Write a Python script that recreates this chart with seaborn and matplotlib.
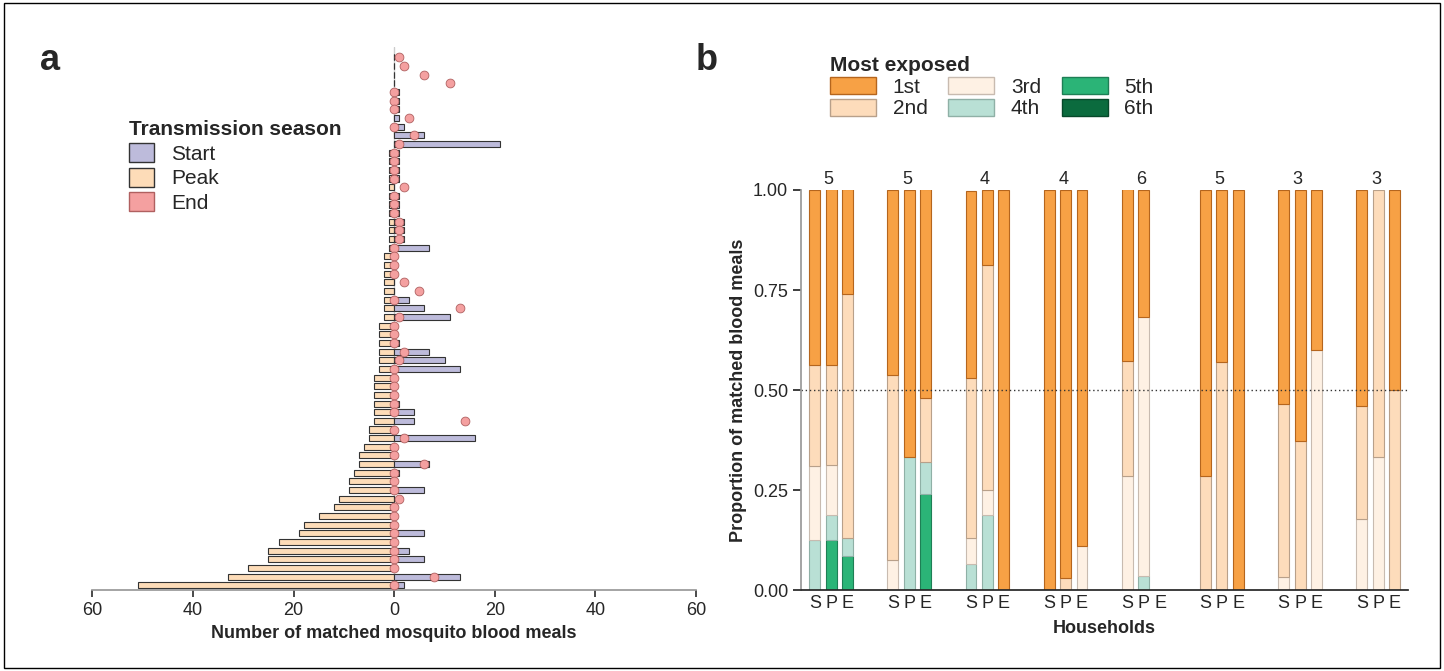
import numpy as np
import pandas as pd
import matplotlib
matplotlib.use("Agg")
import matplotlib.pyplot as plt
import seaborn as sns
from matplotlib.patches import Patch

sns.set_theme(style="ticks")
plt.rcParams['font.family'] = ['Liberation Sans', 'DejaVu Sans']

# ---------- Panel a data (top row first) ----------
peak = [0,0,0,0,0,0,0,0,0,0,0,1,1,1,1,1,1,1,1,1,1,1,1,2,2,2,2,2,2,2,2,
        3,3,3,3,3,3,4,4,4,4,4,4,5,5,6,7,7,8,9,9,11,12,15,18,19,23,25,25,29,33,51]
start = [0,0,0,0,1,1,1,1,2,6,21,1,1,1,1,0,1,1,1,2,2,2,7,0,0,0,0,0,3,6,11,
         0,0,1,7,10,13,0,0,0,1,4,4,0,16,0,0,7,1,0,6,0,0,0,0,6,0,3,6,0,13,2]
end = [1,2,6,11,0,0,0,3,0,4,1,0,0,0,0,2,0,0,0,1,1,1,0,0,0,0,2,5,0,13,1,
       0,0,0,2,1,0,0,0,0,0,0,14,0,2,0,0,6,0,0,0,1,0,0,0,0,0,0,0,0,8,0]
season_labels = ["Start", "Peak", "End"]

# ---------- Panel b data ----------
households = ["H1","H2","H3","H4","H5","H6","H7","H8"]
n_people = [5,5,4,4,6,5,3,3]
periods = ["S","P","E"]
ranks = ["1st","2nd","3rd","4th","5th","6th"]
props = {
 ("H1","S"): [.438,.251,.186,.125,0,0],
 ("H1","P"): [.44,.25,.125,.0625,.125,0],
 ("H1","E"): [.263,.609,0,.043,.087,0],
 ("H2","S"): [.463,.46,.077,0,0,0],
 ("H2","P"): [.667,0,0,.333,0,0],
 ("H2","E"): [.522,.16,0,.08,.24,0],
 ("H3","S"): [.467,.40,.065,.065,0,0],
 ("H3","P"): [.1875,.5625,.0625,.1875,0,0],
 ("H3","E"): [1,0,0,0,0,0],
 ("H4","S"): [1,0,0,0,0,0],
 ("H4","P"): [.97,.03,0,0,0,0],
 ("H4","E"): [.889,0,.111,0,0,0],
 ("H5","S"): [.429,.286,.286,0,0,0],
 ("H5","P"): [.317,0,.645,.037,0,0],
 ("H5","E"): [0,0,0,0,0,0],
 ("H6","S"): [.714,.286,0,0,0,0],
 ("H6","P"): [.429,.571,0,0,0,0],
 ("H6","E"): [1,0,0,0,0,0],
 ("H7","S"): [.534,.433,.033,0,0,0],
 ("H7","P"): [.628,.372,0,0,0,0],
 ("H7","E"): [.4,0,.6,0,0,0],
 ("H8","S"): [.539,.283,.178,0,0,0],
 ("H8","P"): [0,.667,.333,0,0,0],
 ("H8","E"): [.5,.5,0,0,0,0],
}

c_start, c_peak, c_end = "#BDBBDB", "#FDDCB8", "#F4A0A0"
rank_colors = ["#F7A145", "#FDDCBB", "#FEF1E4", "#B9E0D5", "#2BB477", "#0B6B3E"]
rank_edges = ["#B5651D", "#B8A08A", "#C8BBB0", "#8FB0A6", "#1E7F55", "#07482A"]

fig = plt.figure(figsize=(14.44, 6.71), dpi=100)
fig.patches.append(plt.Rectangle((0.003, 0.005), 0.994, 0.99, transform=fig.transFigure,
                                 fill=False, ec="black", lw=1))

# ---------- Panel a ----------
ax = fig.add_axes([0.064, 0.12, 0.418, 0.81])
n = len(peak)
y = np.arange(n)
dfa = pd.DataFrame({"row": y, "peak": peak, "start": start, "end": end})
ax.axvline(0, color="#cccccc", lw=1, zorder=0)
ax.barh(dfa["row"], -dfa["peak"], height=0.7, color=c_peak, edgecolor="#333333", lw=0.8)
ax.barh(dfa["row"], dfa["start"], height=0.7, color=c_start, edgecolor="#333333", lw=0.8)
sns.scatterplot(data=dfa, x="end", y="row", ax=ax, color=c_end, edgecolor="#b06060",
                s=40, linewidth=0.6, zorder=5, legend=False)
ax.set_ylim(n - 0.4, -1.2)
ax.set_xlim(-60, 60)
ax.set_xticks([-60,-40,-20,0,20,40,60])
ax.set_xticklabels(["60","40","20","0","20","40","60"], fontsize=13)
ax.set_yticks([])
ax.set_ylabel("")
for s in ["top","right","left"]:
    ax.spines[s].set_visible(False)
ax.spines["bottom"].set_color("#999999")
ax.tick_params(axis="x", length=5, color="#333333")
ax.set_xlabel("Number of matched mosquito blood meals", fontsize=13, fontweight="bold")
handles = [Patch(facecolor=c_start, edgecolor="#333333", label="Start"),
           Patch(facecolor=c_peak, edgecolor="#333333", label="Peak"),
           Patch(facecolor=c_end, edgecolor="#b06060", label="End")]
leg = ax.legend(handles=handles, title="Transmission season", loc="upper left",
                bbox_to_anchor=(0.03, 0.9), frameon=False, fontsize=15,
                title_fontproperties={"weight": "bold", "size": 15},
                handlelength=1.2, handleheight=1.0, labelspacing=0.2)
leg._legend_box.align = "left"

# ---------- Panel b ----------
bx = fig.add_axes([0.555, 0.12, 0.42, 0.597])
offsets = {"S": -0.21, "P": 0.0, "E": 0.21}
width = 0.14
tick_pos, tick_lab = [], []
for gi, h in enumerate(households):
    for p in periods:
        vals = props[(h, p)]
        bottom = 0.0
        xpos = gi + offsets[p]
        tick_pos.append(xpos)
        tick_lab.append(p)
        for ri in range(5, -1, -1):
            v = vals[ri]
            if v > 0:
                bx.bar(xpos, v, bottom=bottom, width=width, color=rank_colors[ri],
                       edgecolor=rank_edges[ri], lw=0.8)
                bottom += v
    bx.text(gi - 0.03, 1.005, str(n_people[gi]), ha="center", va="bottom", fontsize=13)
bx.axhline(0.5, color="#333333", ls=(0, (1, 2)), lw=1)
bx.set_ylim(0, 1.0)
bx.set_xlim(-0.38, len(households) - 0.62)
bx.set_yticks([0, .25, .5, .75, 1.0])
bx.set_yticklabels(["0.00", "0.25", "0.50", "0.75", "1.00"], fontsize=13)
bx.set_xticks(tick_pos)
bx.set_xticklabels(tick_lab, fontsize=13)
bx.tick_params(axis="x", length=0, pad=3)
bx.spines["top"].set_visible(False)
bx.spines["right"].set_visible(False)
bx.spines["left"].set_color("#999999")
bx.set_ylabel("Proportion of matched blood meals", fontsize=13, fontweight="bold")
bx.set_xlabel("Households", fontsize=13, fontweight="bold", labelpad=6)
rh = [Patch(facecolor=rank_colors[i], edgecolor=rank_edges[i], label=ranks[i]) for i in range(6)]
leg2 = fig.legend(handles=rh, title="Most exposed", ncol=3, loc="upper left",
                  bbox_to_anchor=(0.562, 0.945), frameon=False, fontsize=15,
                  title_fontproperties={"weight": "bold", "size": 15},
                  handlelength=2.2, handleheight=0.9, labelspacing=0.1, columnspacing=1.0)
leg2._legend_box.align = "left"

fig.text(0.028, 0.895, "a", fontsize=26, fontweight="bold")
fig.text(0.482, 0.895, "b", fontsize=26, fontweight="bold")

fig.savefig("out.png", dpi=100)
